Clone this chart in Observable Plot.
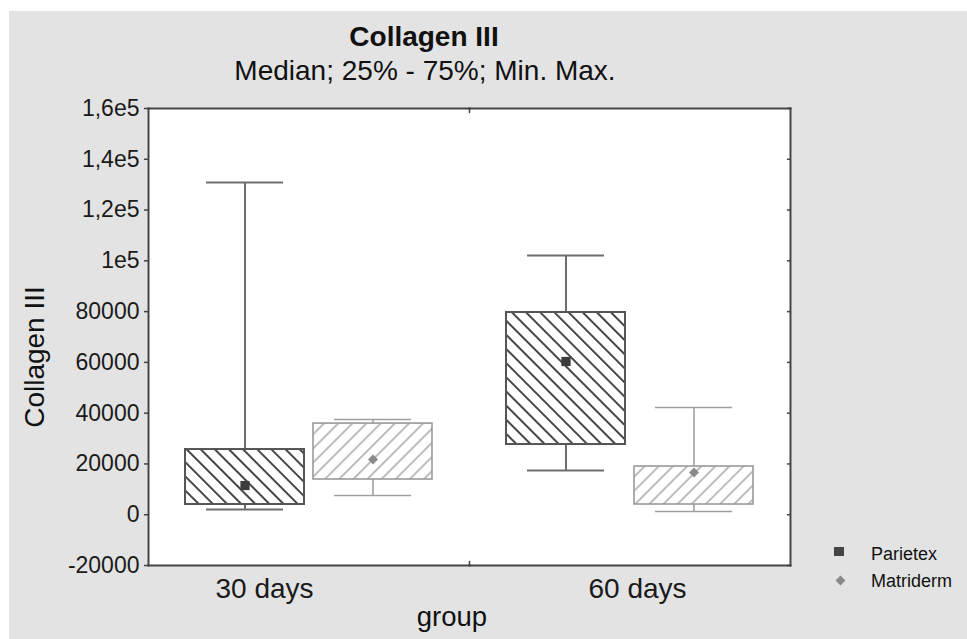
<!DOCTYPE html>
<html><head><meta charset="utf-8">
<script src="https://cdn.jsdelivr.net/npm/d3@7"></script>
<script src="https://cdn.jsdelivr.net/npm/@observablehq/plot@0.6"></script>
<style>
body{margin:0;background:#fff;font-family:"Liberation Sans",Arial,sans-serif;}
#wrap{position:relative;width:967px;height:639px;overflow:hidden;}
#panel{position:absolute;left:9px;top:11px;width:958px;height:628px;background:#e3e3e3;}
.t{position:absolute;white-space:nowrap;line-height:1;color:#111;}
#chart{position:absolute;left:9px;top:95px;}
.sw{position:absolute;}
</style></head><body>
<div id="wrap">
  <div id="panel"></div>
  <div id="chart"></div>
  <div class="t" style="left:124px;width:600px;top:23.3px;font-size:28px;font-weight:bold;text-align:center">Collagen III</div>
  <div class="t" style="left:125px;width:600px;top:57.3px;font-size:28px;text-align:center">Median; 25% - 75%; Min. Max.</div>
  <div class="t" style="left:-114.7px;top:343px;width:300px;height:28px;font-size:28px;text-align:center;transform:rotate(-90deg);transform-origin:50% 50%">Collagen III</div>
  <div class="t" style="left:352px;width:200px;top:602.7px;font-size:27.5px;text-align:center">group</div>
  <div class="sw" style="left:834px;top:546.5px;width:10px;height:9px;background:#444"></div>
  <div class="sw" style="left:836.5px;top:576.5px;width:7px;height:7px;background:#888;transform:rotate(45deg)"></div>
  <div class="t" style="left:871px;top:544.8px;font-size:18px">Parietex</div>
  <div class="t" style="left:871px;top:571.8px;font-size:18px">Matriderm</div>
</div>
<script>
const groups = ["30 days", "60 days"];
const series = ["Parietex", "Matriderm"];
const rowGroup = ["30 days", "30 days", "60 days", "60 days"];
const rowSeries = ["Parietex", "Matriderm", "Parietex", "Matriderm"];
const minVals = [2050, 7560, 17400, 1260];
const q1Vals = [4020, 13870, 27650, 4020];
const medianVals = [11500, 21740, 60350, 16620];
const q3Vals = [25680, 35900, 79650, 18990];
const maxVals = [130850, 37500, 102100, 42230];
const yTicks = [-20000, 0, 20000, 40000, 60000, 80000, 100000, 120000, 140000, 160000];
const yTickLabels = ["-20000", "0", "20000", "40000", "60000", "80000", "1e5", "1,2e5", "1,4e5", "1,6e5"];

const rows = rowGroup.map((g, i) => ({
  group: g, series: rowSeries[i], min: minVals[i], q1: q1Vals[i],
  median: medianVals[i], q3: q3Vals[i], max: maxVals[i]
}));
const P = rows.filter(d => d.series === "Parietex");
const M = rows.filter(d => d.series === "Matriderm");

const frameStyle = {stroke: "#444", strokeWidth: 2};
function whiskers(data, color, w) {
  const o = {fx: "group", x: "series", stroke: color, strokeWidth: w};
  return [
    Plot.ruleX(data, {...o, y1: "q3", y2: "max"}),
    Plot.ruleX(data, {...o, y1: "min", y2: "q1"}),
    Plot.tickY(data, {...o, y: "max", insetLeft: 21, insetRight: 21}),
    Plot.tickY(data, {...o, y: "min", insetLeft: 21, insetRight: 21})
  ];
}
const tinyTick = {draw(context, l) { context.moveTo(0, 0); context.lineTo(0, -l); }};

const plot = Plot.plot({
  width: 958, height: 544,
  marginTop: 13, marginBottom: 74, marginLeft: 139, marginRight: 177,
  style: {background: "transparent", fontFamily: "Liberation Sans, Arial, sans-serif", color: "#1a1a1a"},
  fx: {domain: groups, padding: 0, axis: null},
  x: {domain: series, paddingInner: 0.07, paddingOuter: 0.28, axis: null},
  y: {domain: [-20000, 160000], axis: null},
  marks: [
    Plot.frame({fill: "white", stroke: "white", strokeWidth: 1.5}),
    ...whiskers(P, "#6e6e6e", 2),
    ...whiskers(M, "#a0a0a0", 1.6),
    Plot.barY(P, {fx: "group", x: "series", y1: "q1", y2: "q3", fill: "url(#hatchP)", stroke: "#555", strokeWidth: 2}),
    Plot.barY(M, {fx: "group", x: "series", y1: "q1", y2: "q3", fill: "url(#hatchM)", stroke: "#9a9a9a", strokeWidth: 1.6}),
    Plot.dot(P, {fx: "group", x: "series", y: "median", symbol: "square", r: 5.2, fill: "#3c3c3c"}),
    Plot.dot(M, {fx: "group", x: "series", y: "median", symbol: "diamond2", r: 4.5, fill: "#8a8a8a"}),
    Plot.frame({anchor: "top", ...frameStyle}),
    Plot.frame({anchor: "bottom", ...frameStyle}),
    Plot.frame({anchor: "left", facetAnchor: "left", ...frameStyle}),
    Plot.frame({anchor: "right", facetAnchor: "right", ...frameStyle}),
    Plot.vector([0], {frameAnchor: "top-right", facetAnchor: "left", length: 4, rotate: 180, anchor: "start", shape: tinyTick, stroke: "#444", strokeWidth: 1.5}),
    Plot.vector([0], {frameAnchor: "bottom-right", facetAnchor: "left", length: 4, rotate: 0, anchor: "start", shape: tinyTick, stroke: "#444", strokeWidth: 1.5}),
    Plot.axisY({anchor: "left", ticks: yTicks, tickSize: 4, tickPadding: 5,
      tickFormat: d => yTickLabels[yTicks.indexOf(d)], fontSize: 23, label: null, stroke: "#444", strokeWidth: 1.5}),
    Plot.axisY({anchor: "right", ticks: yTicks, tickSize: -4, tickFormat: () => "", label: null, stroke: "#444", strokeWidth: 1.5}),
    Plot.axisFx({anchor: "bottom", ticks: ["30 days"], tickSize: 0, tickPadding: 13, fontSize: 28, dx: -44.5, label: null}),
    Plot.axisFx({anchor: "bottom", ticks: ["60 days"], tickSize: 0, tickPadding: 13, fontSize: 28, dx: 7.5, label: null})
  ]
});

const svg = d3.select(plot);
const defs = svg.insert("defs", ":first-child");
function hatch(id, angle, color, w) {
  const p = defs.append("pattern").attr("id", id).attr("patternUnits", "userSpaceOnUse")
    .attr("width", 10).attr("height", 10).attr("patternTransform", `rotate(${angle})`);
  p.append("rect").attr("width", 10).attr("height", 10).attr("fill", "white");
  p.append("line").attr("x1", 5).attr("x2", 5).attr("y1", -1).attr("y2", 11)
    .attr("stroke", color).attr("stroke-width", w);
}
hatch("hatchP", -45, "#333", 1.8);
hatch("hatchM", 45, "#9a9a9a", 1.3);
document.getElementById("chart").appendChild(plot);
</script>
</body></html>
